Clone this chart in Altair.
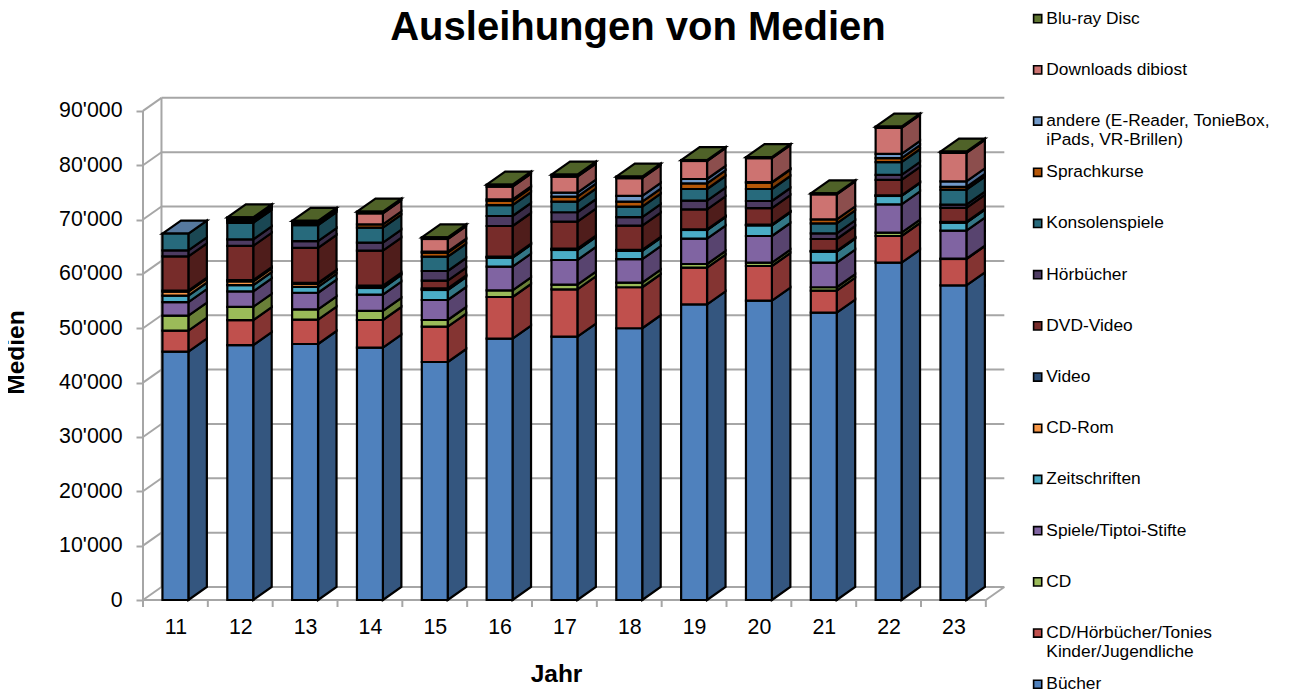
import altair as alt
import pandas as pd

FONT = "Liberation Sans"
years = [11, 12, 13, 14, 15, 16, 17, 18, 19, 20, 21, 22, 23]
names = ["Bücher", "CD/Hörbücher/Tonies\nKinder/Jugendliche", "CD", "Spiele/Tiptoi-Stifte",
         "Zeitschriften", "CD-Rom", "Video", "DVD-Video", "Hörbücher", "Konsolenspiele",
         "Sprachkurse", "andere (E-Reader, TonieBox,\niPads, VR-Brillen)", "Downloads dibiost", "Blu-ray Disc"]
front = ["#4F81BD", "#C0504D", "#9BBB59", "#8064A2", "#4BACC6", "#F79646", "#2C4D75",
         "#772C2A", "#4D3B62", "#276A7C", "#B65708", "#729ACA", "#CD7371", "#5F7530"]
side = ["#34567F", "#843432", "#6A8038", "#58446F", "#337686", "#A86830", "#1E344F",
        "#4F1D1B", "#382B47", "#1A4753", "#7C3B05", "#4E6E96", "#8C4E4D", "#4B5E26"]
buecher = [45700, 46900, 47100, 46420, 43790, 48080, 48450, 50000, 54410, 55070, 52860, 62060, 57900]
cd_kinder = [3860, 4600, 4470, 5100, 6500, 7670, 8720, 7540, 6730, 6380, 4050, 4910, 4840]
cd = [2760, 2450, 1910, 1660, 1230, 1230, 850, 850, 680, 610, 630, 610, 70]
spiele = [2500, 2830, 3050, 3000, 3680, 4340, 4540, 4310, 4660, 4910, 4530, 5230, 5150]
zeitschriften = [1180, 1160, 1100, 1230, 1840, 1660, 1840, 1530, 1600, 1970, 2020, 1530, 1470]
cdrom = [740, 680, 550, 130, 130, 90, 130, 90, 70, 60, 70, 60, 60]
video = [180, 240, 180, 290, 180, 90, 110, 90, 60, 70, 70, 60, 70]
dvd = [6310, 6310, 6440, 6440, 1400, 5650, 4970, 4470, 3680, 3050, 2190, 2830, 2580]
hoerbuecher = [1100, 1180, 1230, 1470, 1780, 1840, 1730, 1550, 1580, 1290, 1050, 920, 610]
konsolen = [3070, 3050, 2940, 2760, 2630, 2020, 1950, 1950, 2150, 2210, 1840, 2340, 2760]
sprachkurse = [0, 330, 280, 630, 740, 790, 920, 920, 1050, 1160, 740, 740, 500]
andere = [0, 170, 150, 0, 180, 260, 740, 1050, 790, 90, 0, 790, 1030]
downloads = [0, 170, 150, 2020, 2340, 2320, 2940, 3260, 3310, 4420, 4600, 4780, 5230]
bluray = [0, 330, 220, 300, 310, 370, 370, 300, 180, 180, 180, 240, 240]
top_colors = ["#56799F"] + ["#4F6228"] * 12
series = [buecher, cd_kinder, cd, spiele, zeitschriften, cdrom, video, dvd, hoerbuecher,
          konsolen, sprachkurse, andere, downloads, bluray]

HALF = 0.2
DX = 0.285
DY = 2392
XMIN, XMAX = 10.5, 23.78
YMAX = 92548
GRAY = "#A6A6A6"
STROKE = 2.2

fronts, sides, tops = [], [], []
for i, yr in enumerate(years):
    base = 0
    for s, vals in enumerate(series):
        v = vals[i]
        if v == 0:
            continue
        fronts.append(dict(x=yr - HALF, x2=yr + HALF, y=base, y2=base + v, name=names[s]))
        for k in (0, 1):
            sides.append(dict(x=yr + HALF + k * DX, y=base + k * DY, y2=base + v + k * DY,
                              seg=f"{yr}-{s}", fill=side[s]))
        base += v
    for k in (0, 1):
        tops.append(dict(y=base + k * DY, x=yr - HALF + k * DX, x2=yr + HALF + k * DX,
                         seg=str(yr), fill=top_colors[i]))

rules = []
ticks = list(range(0, 100000, 10000))
for t in ticks:
    rules.append(dict(x=XMIN + DX, x2=23.5 + DX, y=t + DY, y2=t + DY))
    rules.append(dict(x=XMIN, x2=XMIN + DX, y=t, y2=t + DY))
rules.append(dict(x=XMIN, x2=XMIN, y=0, y2=90000))
rules.append(dict(x=XMIN + DX, x2=XMIN + DX, y=DY, y2=90000 + DY))
rules.append(dict(x=XMIN, x2=23.5, y=0, y2=0))
rules.append(dict(x=23.5, x2=23.5 + DX, y=0, y2=DY))
for t in range(14):
    rules.append(dict(x=XMIN + t, x2=XMIN + t, y=0, y2=-1290))

xs = alt.Scale(domain=[XMIN, XMAX], nice=False, zero=False)
ys = alt.Scale(domain=[0, YMAX], nice=False)

xa = alt.Axis(values=years, domain=False, grid=False, ticks=False, labelPadding=16,
              labelFont=FONT, labelFontSize=21.33, labelColor="black", format="d",
              labelFlush=False, labelOverlap=False,
              titleFont=FONT, titleFontSize=24.5, titleFontWeight="bold", titleColor="black",
              titleX=413, titlePadding=25)
ya = alt.Axis(values=ticks, domain=False, grid=False, tickSize=7, tickColor=GRAY, tickWidth=2,
              labelPadding=14, labelFont=FONT, labelFontSize=21.33, labelColor="black",
              labelExpr="replace(format(datum.value, ','), ',', \"'\")",
              titleFont=FONT, titleFontSize=24.5, titleFontWeight="bold", titleColor="black",
              titlePadding=30, titleY=255)
X = alt.X("x:Q", scale=xs, title="Jahr", axis=xa)
Y = alt.Y("y:Q", scale=ys, title="Medien", axis=ya)

legend = alt.Legend(
    title=None, orient="none", legendX=886, legendY=-87, symbolType="square", symbolSize=66,
    symbolStrokeColor="black", symbolStrokeWidth=1.6, symbolOpacity=1, labelFont=FONT, labelFontSize=17.33,
    labelColor="black", labelLimit=300, rowPadding=13.2, gridAlign="all", labelBaseline="middle", labelOffset=0,
    labelExpr="split(datum.label, '\\n')",
)

base_rules = alt.Chart(pd.DataFrame(rules)).mark_rule(color=GRAY, strokeWidth=2).encode(
    x=X, x2="x2:Q", y=Y, y2="y2:Q",
)

side_layer = alt.Chart(pd.DataFrame(sides)).mark_area(stroke="black", strokeWidth=STROKE, interpolate="linear").encode(
    x=X, y=Y, y2="y2:Q",
    detail="seg:N",
    fill=alt.Fill("fill:N", scale=None),
)

top_layer = alt.Chart(pd.DataFrame(tops)).mark_area(stroke="black", strokeWidth=STROKE, orient="horizontal").encode(
    y=Y, x=X, x2="x2:Q",
    detail="seg:N",
    fill=alt.Fill("fill:N", scale=None),
)

front_layer = alt.Chart(pd.DataFrame(fronts)).mark_rect(stroke="black", strokeWidth=STROKE).encode(
    x=X, x2="x2:Q", y=Y, y2="y2:Q",
    fill=alt.Fill("name:N", scale=alt.Scale(domain=names[::-1], range=front[::-1]), legend=legend),
)

chart = alt.layer(base_rules, side_layer, top_layer, front_layer).properties(
    width=861, height=503,
    autosize=alt.AutoSizeParams(type="none"),
    padding={"left": 135, "top": 89, "right": 284, "bottom": 92},
    title=alt.TitleParams("Ausleihungen von Medien", font=FONT, fontSize=40, fontWeight="bold",
                          color="black", anchor="middle", dx=64.5, offset=-38),
).configure_view(stroke=None)

chart.save("out.html", embed_options={"renderer": "svg", "actions": False})
